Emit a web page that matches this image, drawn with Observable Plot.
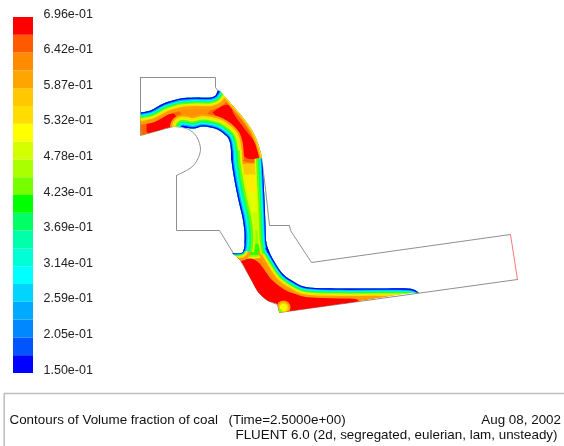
<!DOCTYPE html>
<html><head><meta charset="utf-8">
<script src="https://cdn.jsdelivr.net/npm/d3@7"></script>
<script src="https://cdn.jsdelivr.net/npm/@observablehq/plot@0.6"></script>
<style>
html,body{margin:0;padding:0;background:#fff}
#c{position:relative;width:564px;height:446px;overflow:hidden;filter:blur(0.35px)}
#c svg{position:absolute;left:0;top:0;max-width:none}
</style></head><body><div id="c"></div>
<script>
// ---- colour key ----
const legendColors = ["#0000ff","#0055ff","#0088ff","#00aaff","#00d4ff","#00ffff","#00ffd4","#00ffaa","#00ff66","#00ff00","#77ff00","#aaff00","#d4ff00","#ffff00","#ffdd00","#ffc800","#ffa500","#ff8c00","#ff5a00","#ff0000"];
const tickLabels = ["6.96e-01","6.42e-01","5.87e-01","5.32e-01","4.78e-01","4.23e-01","3.69e-01","3.14e-01","2.59e-01","2.05e-01","1.50e-01"];
const vMin = 0.15, vMax = 0.696;

// ---- geometry outline ----
const wallLeftLower = [[140,77],[140,135],[173,126]];
const wallArc = [[173,126],[182,127],[190,130],[196,136],[199,143],[200,149],[198,157],[193,165],[186,170],[180,173],[176,175]];
const wallStepLeft = [[176,175],[176,230],[219,230],[233,253],[240,260],[258,292]];
const wallBend = [[258,292],[262,296],[267,300],[277,304]];
const wallOut = [[277,304],[279,312],[517,279]];
const wallTop = [[140,77],[215,77],[215,87],[218,91]];
const wallCurve = [[218,91],[225,97],[230,103],[243,118],[253,133],[260,152],[262,165],[264,180]];
const wallStepRight = [[264,180],[269,225],[289,225],[290,230],[311,262],[510,234]];
const outlet = [[510,234],[517,279]];

// ---- free surfaces of the coal layer ----
const edgeTop = [[136,113],[140,112],[150,110],[163,103],[172,100],[180,98],[195,97],[210,97],[215,95],[218,90]];
const edgeInnerStart = [[182,126.5],[186,127]];
const edgeInnerCurve = [[182,126.5],[193,128],[202,126],[210,127],[217,129],[223,133],[228,138],[230,145],[231,160]];
const edgeChannelLeft = [[230.5,150],[231,160],[234,180],[238,200],[242,217],[244,232],[244,243],[243,250]];
const edgeTail = [[244,246],[242,252],[238,253],[232,253]];
const edgeChannelRight = [[262,158],[263,180],[264,200],[265,225],[266,243],[268,252]];
const edgeLower = [[266,247],[271,256],[283,274],[293,281],[303,286],[340,288],[380,288],[413,289],[419,293]];
const wallFilm = [[218,91],[225,97],[230,103],[243,118],[253,133],[260,152],[262,165]];
const flowWallBottom = [[417,292],[350,302],[281,311.7],[279,312],[278,308],[277,304],[267,300],[258,292],[250,278],[240,260],[236,256],[232,253]];
const flowWallTop = [[182,126.5],[173,126],[156,130.5],[140,135]];

// band order, inner to outer, and the depth of each band along each surface
const bandColors = ["#ff9c00","#ffdd00","#d4ff00","#66ff00","#00ff80","#00ffe0","#00a8ff","#0000ff"];
const innerDepth = [2,2,1.5,1.5,1.5,1.5,1.2,1.3];
const surfaces = [
  {pts: edgeTop,          depth: [3.5,1.5,1.2,1.2,1,1.2,1.2,1.3]},
  {pts: edgeInnerCurve,   depth: innerDepth},
  {pts: edgeInnerStart,   depth: innerDepth, cap:"round"},
  {pts: edgeChannelLeft,  depth: [0,0,2,2.2,2,1.8,1.4,1.3]},
  {pts: edgeTail,         depth: [3,1.5,0.8,0.6,0.4,0.4,0.4,0.6]},
  {pts: edgeChannelRight, depth: [0,0,1.5,2,1.3,1.3,0.9,1]},
  {pts: edgeLower,        depth: [2.5,1.3,1,1,1,1,0.8,1.3]},
  {pts: wallFilm,         depth: [1.5,0.6,0.4,0,0,0,0,0]}
];

// ---- interior patches ----
const redLeftHalo = [[141,118],[175,108],[184,123],[175,127],[143,136]];
const redLeft = [[147,120],[173,113],[177,122],[172,126],[147,132]];
const redRightHalo = [[207,113],[222,101],[234,103],[244,122],[261,146],[262,160],[242,160],[226,134]];
const redRight = [[212,112],[223,105],[230,105],[233,113],[243,127],[255,143],[259,157],[245,157],[240,142],[230,128],[217,117]];
const redLower = [[234,262],[250,258],[258,262],[272,280],[290,292],[320,296],[358,300],[358,306],[279,316],[262,305],[250,292]];
const coreLevels = [[163,"#ffc800"],[174,"#ffee00"],[192,"#e4ff00"],[212,"#c4ff00"],[230,"#90ff00"],[243,"#30ff00"]];
const bump = [[7,"#ff9c00"],[5.2,"#ffcc00"],[3.6,"#f4ff00"]];
const bumpAt = [[283,307]];
const bumpFoot = [[279,311]];

// ---- caption ----
const captionLeft = [
  {x:9,   y:419, t:"Contours of Volume fraction of coal"},
  {x:228, y:419, t:"(Time=2.5000e+00)"}
];
const captionRight = [
  {x:560.5, y:419, t:"Aug 08, 2002"},
  {x:557, y:434, t:"FLUENT 6.0 (2d, segregated, eulerian, lam, unsteady)"}
];
const boxLine = [[3.7,446],[3.7,393],[564,393]];

const X = d => d[0], Y = d => d[1];
const flowOutline = [...edgeTop.slice(1), ...wallFilm.slice(1), ...edgeChannelRight.slice(1,5), ...edgeLower.slice(1), ...flowWallBottom,
  ...edgeTail.slice().reverse().slice(1), ...edgeChannelLeft.slice().reverse().slice(1), ...edgeInnerCurve.slice().reverse().slice(1), ...flowWallTop];

const smooth = "catmull-rom";
const poly = (pts, fill) => Plot.line([...pts, pts[0]], {x:X, y:Y, fill, stroke:"none", curve:smooth});
const inner = [];
inner.push(poly(flowOutline, "#ff9000"));
inner.push(poly(redLeftHalo, "#ff6400"), poly(redLeft, "#ff0000"));
inner.push(poly(redRightHalo, "#ff6400"), poly(redRight, "#ff0000"));
for (const [yy,col] of coreLevels) inner.push(poly([[226,yy+7],[240,yy+1],[250,yy],[270,yy+3],[270,252],[226,252]], col));
inner.push(poly(redLower, "#ff0000"));
for (const [r,col] of bump) inner.push(Plot.dot(bumpAt, {x:X, y:Y, r, fill:col, stroke:"none"}));
inner.push(Plot.dot(bumpFoot, {x:X, y:Y, r:2.5, fill:"#80ff00", stroke:"none"}));
bandColors.forEach((col, b) => {
  for (const s of surfaces) {
    const w = 2 * d3.sum(s.depth.slice(b));
    if (s.depth[b] > 0) inner.push(Plot.line(s.pts, {x:X, y:Y, stroke:col, strokeWidth:w, strokeLinecap:s.cap ?? "butt", curve:smooth}));
  }
});

const wall = {stroke:"#8f8f8f", strokeWidth:1};
const main = Plot.plot({
  width:564, height:446, margin:0,
  style:{background:"transparent", fontFamily:"Liberation Sans", fontSize:"13.4px", color:"#111"},
  x:{axis:null, domain:[0,564], range:[0,564]},
  y:{axis:null, domain:[0,446], range:[0,446]},
  marks:[
    Plot.line(wallLeftLower, {x:X, y:Y, ...wall}),
    Plot.line(wallArc, {x:X, y:Y, ...wall, curve:smooth}),
    Plot.line(wallStepLeft, {x:X, y:Y, ...wall}),
    Plot.line(wallBend, {x:X, y:Y, ...wall, curve:smooth}),
    Plot.line(wallOut, {x:X, y:Y, ...wall}),
    Plot.line(wallTop, {x:X, y:Y, ...wall}),
    Plot.line(wallCurve, {x:X, y:Y, ...wall, curve:smooth}),
    Plot.line(wallStepRight, {x:X, y:Y, ...wall}),
    Plot.line(outlet, {x:X, y:Y, stroke:"#f47a7a", strokeWidth:1}),
    ...inner,
    Plot.line(boxLine, {x:X, y:Y, stroke:"#bdbdbd", strokeWidth:1.5}),
    Plot.text(captionLeft, {x:"x", y:"y", text:"t", textAnchor:"start", fill:"#111"}),
    Plot.text(captionRight, {x:"x", y:"y", text:"t", textAnchor:"end", fill:"#111"})
  ]
});

const key = Plot.plot({
  width:110, height:446, margin:0,
  style:{background:"transparent", fontFamily:"Liberation Sans", fontSize:"12.5px"},
  x:{axis:null, domain:[0,1], range:[13,33]},
  y:{axis:null, domain:[vMin,vMax], range:[373,17]},
  color:{type:"identity"},
  marks:[
    Plot.rect(legendColors, {x1:0, x2:1,
      y1:(d,i)=>vMin+(vMax-vMin)*i/legendColors.length,
      y2:(d,i)=>vMin+(vMax-vMin)*(i+1)/legendColors.length, fill:d=>d}),
    Plot.text(tickLabels, {x:1.5, y:d=>+d, text:d=>d, textAnchor:"start", dy:-4, fill:"#222"})
  ]
});

const root = document.getElementById("c");
root.append(main, key);

// clip the coal-layer marks to the layer's own outline
const sx = main.scale("x"), sy = main.scale("y");
const ns = "http://www.w3.org/2000/svg";
const cp = document.createElementNS(ns,"clipPath"); cp.setAttribute("id","flowClip");
const pth = document.createElementNS(ns,"path");
pth.setAttribute("d", d3.line().curve(d3.curveCatmullRom)(flowOutline.map(p=>[sx.apply(p[0]), sy.apply(p[1])])));
cp.append(pth); main.append(cp);
const markGroups = [...main.children].filter(n => n.tagName.toLowerCase() === "g");
markGroups.slice(9, 9 + inner.length).forEach(g => g.setAttribute("clip-path","url(#flowClip)"));
</script></body></html>
